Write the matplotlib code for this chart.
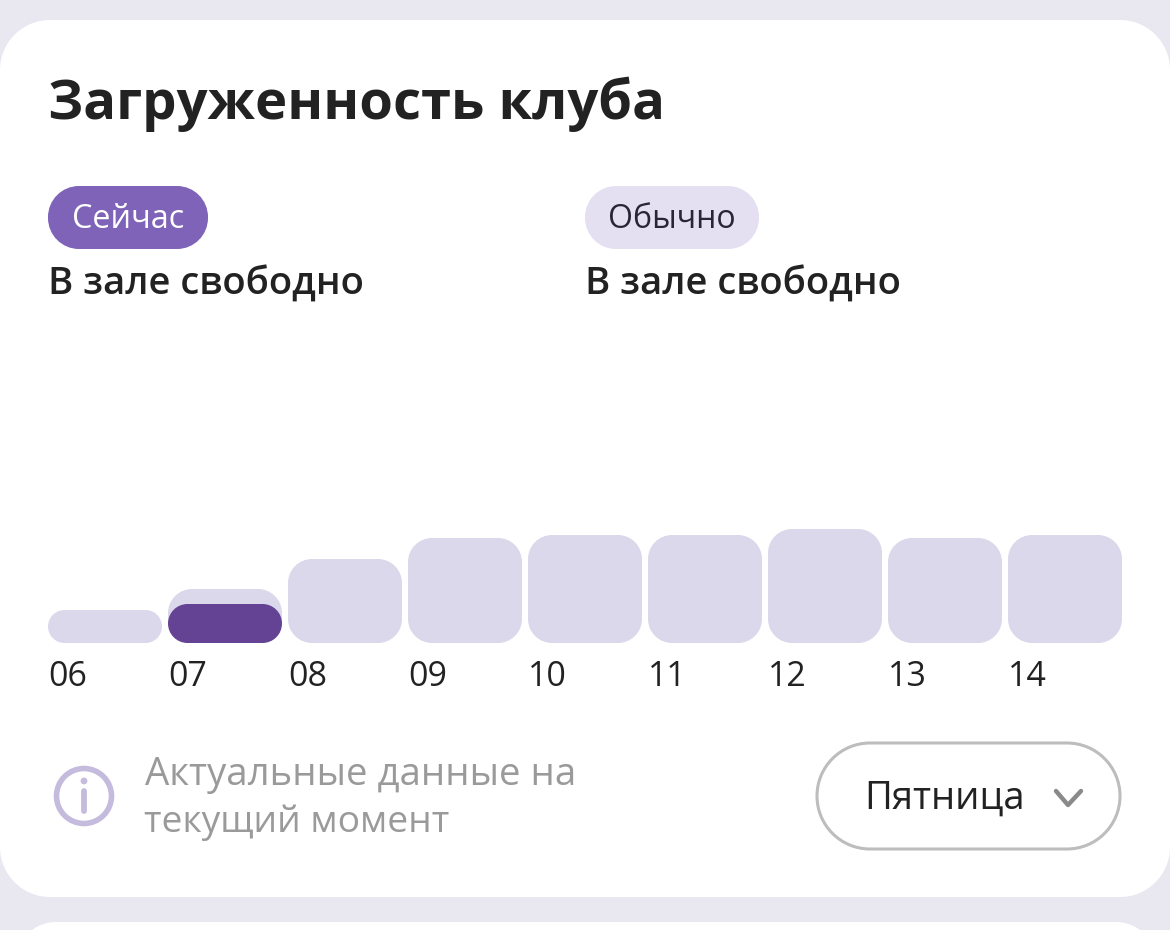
import matplotlib
matplotlib.use("Agg")
import matplotlib.pyplot as plt
from matplotlib.patches import Circle, PathPatch
from matplotlib.path import Path
from matplotlib.lines import Line2D

plt.rcParams['font.family'] = ['Open Sans', 'Noto Sans', 'DejaVu Sans']

hours = ['06', '07', '08', '09', '10', '11', '12', '13', '14']
usual = [33, 54, 84, 105, 108, 108, 114, 105, 108]
current_hour = ['07']
current = [39]
title = 'Загруженность клуба'
status_now = 'В зале свободно'
status_usual = 'В зале свободно'
note = ['Актуальные данные на', 'текущий момент']
day = 'Пятница'

fig = plt.figure(figsize=(11.7, 9.3), dpi=100, facecolor='#E9E7F0')
ax = fig.add_axes([0, 0, 1, 1])
ax.set_xlim(0, 1170)
ax.set_ylim(930, 0)
ax.axis('off')


def rrect(x0, y0, x1, y1, r, fc, ec='none', lw=0, z=2):
    r = min(r, (x1 - x0) / 2, (y1 - y0) / 2)
    k = 0.5523 * r
    v = [(x0 + r, y0), (x1 - r, y0),
         (x1 - r + k, y0), (x1, y0 + r - k), (x1, y0 + r),
         (x1, y1 - r),
         (x1, y1 - r + k), (x1 - r + k, y1), (x1 - r, y1),
         (x0 + r, y1),
         (x0 + r - k, y1), (x0, y1 - r + k), (x0, y1 - r),
         (x0, y0 + r),
         (x0, y0 + r - k), (x0 + r - k, y0), (x0 + r, y0),
         (x0 + r, y0)]
    c = [Path.MOVETO, Path.LINETO,
         Path.CURVE4, Path.CURVE4, Path.CURVE4,
         Path.LINETO,
         Path.CURVE4, Path.CURVE4, Path.CURVE4,
         Path.LINETO,
         Path.CURVE4, Path.CURVE4, Path.CURVE4,
         Path.LINETO,
         Path.CURVE4, Path.CURVE4, Path.CURVE4,
         Path.CLOSEPOLY]
    ax.add_patch(PathPatch(Path(v, c), fc=fc, ec=ec, lw=lw, zorder=z))


# cards
rrect(0, 20, 1170, 897, 50, 'white', z=1)
rrect(16, 922, 1156, 1100, 40, 'white', z=1)

ax.text(48, 104, title, fontsize=39.2, fontweight='bold', color='#222222',
        va='center', ha='left')

# pills
rrect(48, 186, 208, 249, 31, '#7E63B8')
ax.text(128.5, 219, 'Сейчас', fontsize=23.3, color='white', ha='center', va='center')
rrect(585, 186, 759, 249, 31, '#E4E0F2')
ax.text(672, 219, 'Обычно', fontsize=23.0, color='#2A2438', ha='center', va='center')
ax.text(48, 285, status_now, fontsize=27.5, fontweight='semibold', color='#222222', va='center')
ax.text(585, 285, status_usual, fontsize=27.5, fontweight='semibold', color='#222222', va='center')

# bars
base = 643
left = 48
step = 120
width = 114
for i, (h, v) in enumerate(zip(hours, usual)):
    x = left + i * step
    rrect(x, base - v, x + width, base, 24, '#DCD8EC')
    ax.text(x, 677, h, fontsize=24.5, color='#222222', ha='left', va='center')
for h, v in zip(current_hour, current):
    x = left + hours.index(h) * step
    rrect(x, base - v, x + width, base, 20, '#654394', z=3)

# info icon
ax.add_patch(Circle((84, 796), 27.5, fc='none', ec='#C5BBDD', lw=4, zorder=2))
ax.add_patch(Circle((84, 781), 3.4, fc='#C5BBDD', ec='none', zorder=2))
ax.add_line(Line2D([84, 84], [791, 811], color='#C5BBDD', lw=4.2, solid_capstyle='round'))

ax.text(145, 775, note[0], fontsize=27.6, color='#9A9A9A', va='center')
ax.text(144, 823, note[1], fontsize=26.7, color='#9A9A9A', va='center')

# dropdown
rrect(817, 743, 1120, 849, 53, 'white', ec='#BDBDBD', lw=2.2)
ax.text(864, 799, day, fontsize=27.5, color='#222222', va='center')
ax.add_line(Line2D([1056, 1068, 1081], [791, 805, 791], color='#8A8A8A', lw=3.2,
                   solid_capstyle='round', solid_joinstyle='round', zorder=4))

fig.savefig('out.png', dpi=100, facecolor=fig.get_facecolor())
